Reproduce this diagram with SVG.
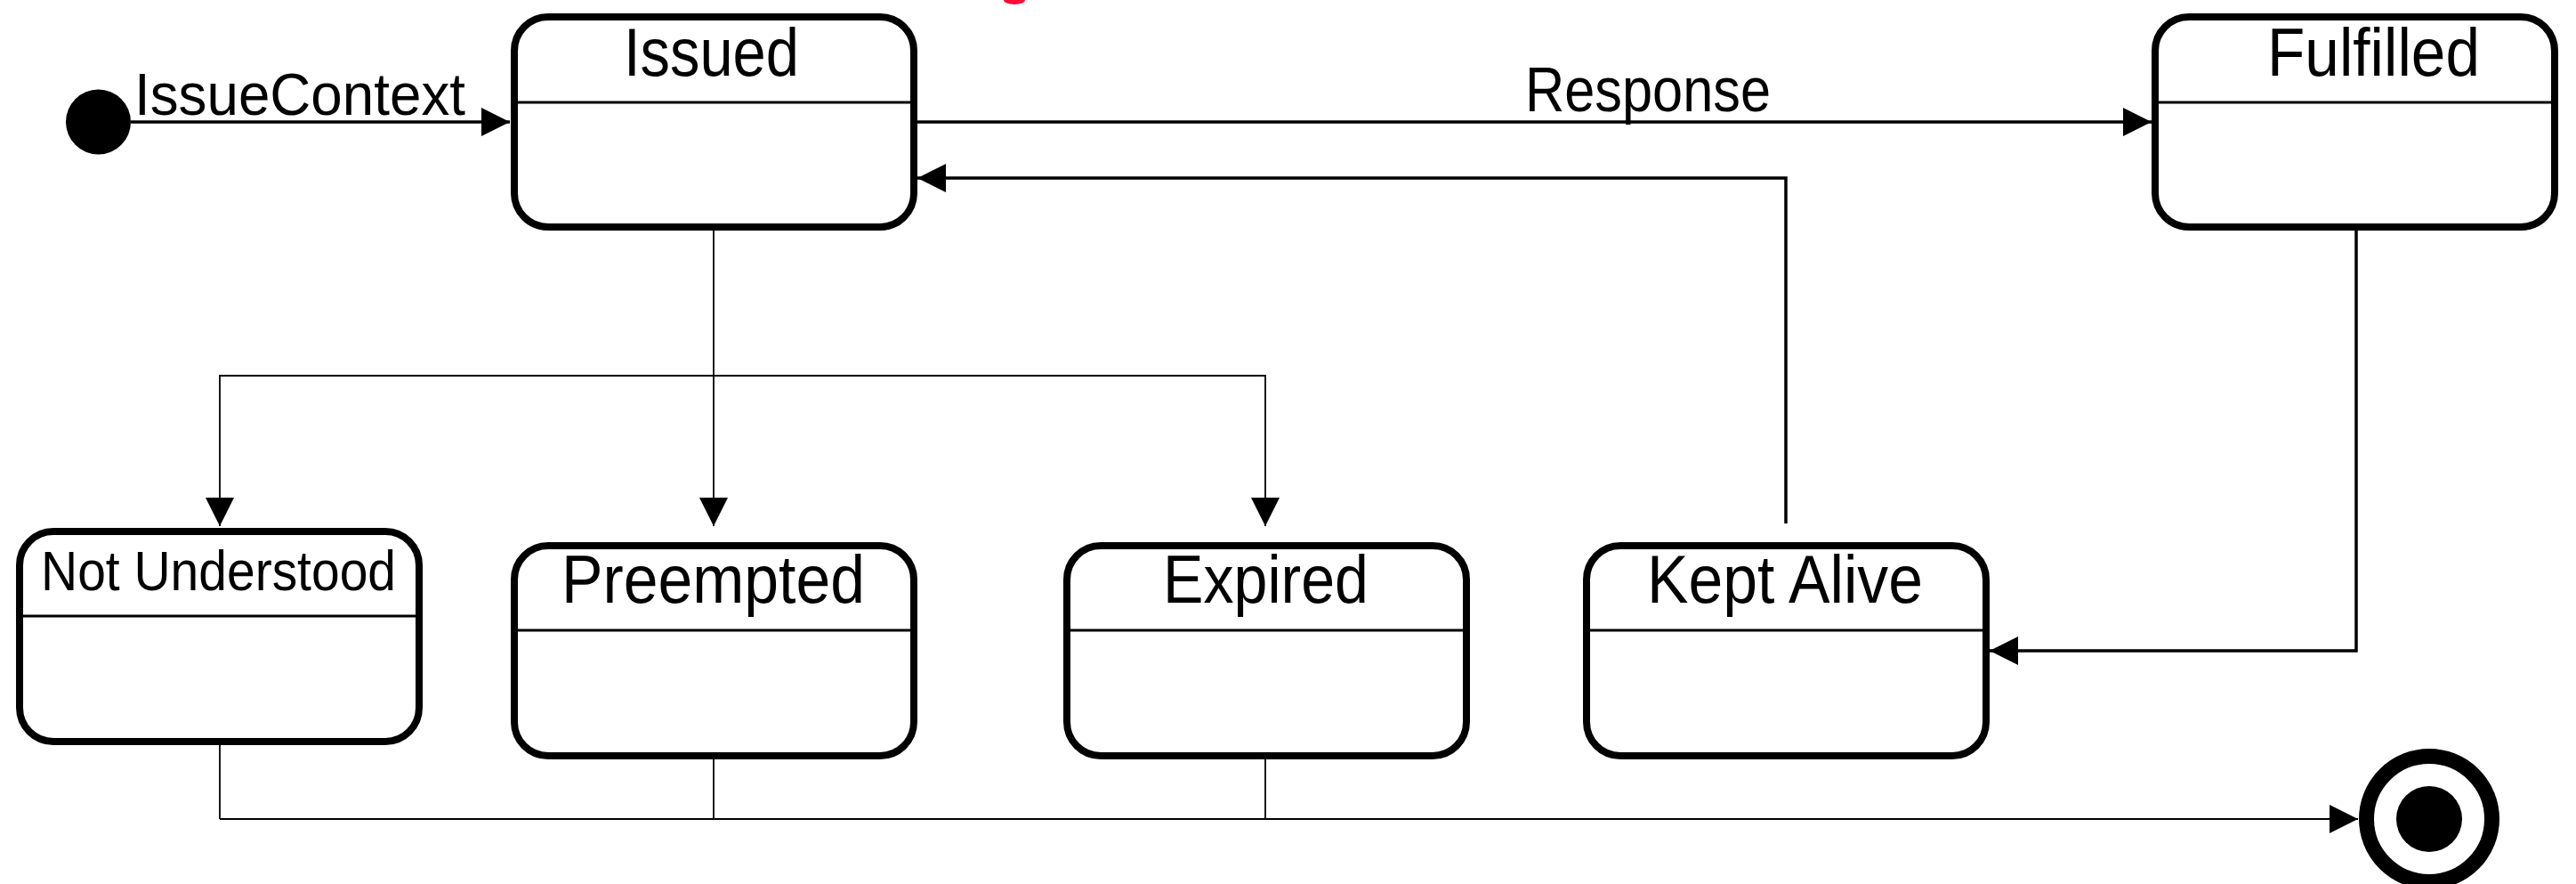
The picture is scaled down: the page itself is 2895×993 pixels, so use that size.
<svg xmlns="http://www.w3.org/2000/svg" width="2895" height="993" viewBox="0 0 2895 993">
<style>
.box{fill:#fff;stroke:#000;stroke-width:8}
.div{stroke:#000;stroke-width:3;fill:none}
.lbl{font-family:"Liberation Sans",Arial,sans-serif;fill:#000}
.st{font-size:76px}
.c{fill:none;stroke:#000}
.thick{stroke-width:3.5}
.thin{stroke-width:1.8}
</style>
<defs>
<marker id="arr" markerUnits="userSpaceOnUse" markerWidth="34" markerHeight="34" refX="32" refY="16" orient="auto">
<path d="M0,0 L32,16 L0,32 z" fill="#000"/>
</marker>
</defs>
<rect width="2895" height="993" fill="#fff"/>
<path d="M1128,0 A12,5 0 0 0 1152,0 z" fill="#ff0a36"/>
<g id="connectors">
<path class="c thick" d="M147,137 H573" marker-end="url(#arr)"/>
<path class="c thick" d="M1031,137 H2418" marker-end="url(#arr)"/>
<path class="c thick" d="M2007,588 V200 H1031" marker-end="url(#arr)"/>
<path class="c thick" d="M2648,259 V731 H2236" marker-end="url(#arr)"/>
<path class="c thin" d="M802,259 V591" marker-end="url(#arr)"/>
<path class="c thin" d="M802,422 H247 V591" marker-end="url(#arr)"/>
<path class="c thin" d="M802,422 H1422 V591" marker-end="url(#arr)"/>
<path class="c thin" d="M247,837 V920"/>
<path class="c thin" d="M802,853 V920"/>
<path class="c thin" d="M1422,853 V920"/>
<path class="c" stroke-width="2.2" d="M247,920 H2650" marker-end="url(#arr)"/>
<text class="lbl" x="151" y="129" font-size="67" textLength="372" lengthAdjust="spacingAndGlyphs">IssueContext</text>
<text class="lbl" x="1714" y="125" font-size="70" textLength="276" lengthAdjust="spacingAndGlyphs">Response</text>
</g>
<g id="initial">
<circle cx="110.5" cy="137" r="36.5" fill="#000"/>
</g>
<g id="issued">
<rect class="box" x="578" y="19" width="449" height="236" rx="38"/>
<line class="div" x1="578" y1="115" x2="1027" y2="115"/>
<text class="lbl st" x="701" y="85" textLength="197" lengthAdjust="spacingAndGlyphs">Issued</text>
</g>
<g id="fulfilled">
<rect class="box" x="2422" y="19" width="449" height="236" rx="38"/>
<line class="div" x1="2422" y1="115" x2="2871" y2="115"/>
<text class="lbl st" x="2548" y="85" textLength="239" lengthAdjust="spacingAndGlyphs">Fulfilled</text>
</g>
<g id="not-understood">
<rect class="box" x="22" y="597" width="449" height="236" rx="38"/>
<line class="div" x1="22" y1="692" x2="471" y2="692"/>
<text class="lbl" x="46" y="663" font-size="63" textLength="399" lengthAdjust="spacingAndGlyphs">Not Understood</text>
</g>
<g id="preempted">
<rect class="box" x="578" y="613" width="449" height="236" rx="38"/>
<line class="div" x1="578" y1="708" x2="1027" y2="708"/>
<text class="lbl st" x="631" y="677" textLength="341" lengthAdjust="spacingAndGlyphs">Preempted</text>
</g>
<g id="expired">
<rect class="box" x="1199" y="613" width="449" height="236" rx="38"/>
<line class="div" x1="1199" y1="708" x2="1648" y2="708"/>
<text class="lbl st" x="1307" y="677" textLength="231" lengthAdjust="spacingAndGlyphs">Expired</text>
</g>
<g id="kept-alive">
<rect class="box" x="1783" y="613" width="449" height="236" rx="38"/>
<line class="div" x1="1783" y1="708" x2="2232" y2="708"/>
<text class="lbl st" x="1851" y="677" textLength="310" lengthAdjust="spacingAndGlyphs">Kept Alive</text>
</g>
<g id="final">
<circle cx="2730" cy="920" r="70.5" fill="#fff" stroke="#000" stroke-width="17"/>
<circle cx="2730" cy="920" r="37" fill="#000"/>
</g>
</svg>
